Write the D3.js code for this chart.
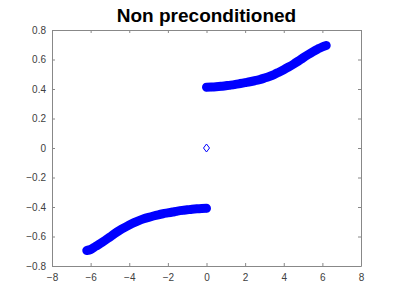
<!DOCTYPE html>
<html>
<head>
<meta charset="utf-8">
<script src="https://cdn.jsdelivr.net/npm/d3@7"></script>
<style>
  body { margin: 0; background: #fff; }
  text { font-family: "Liberation Sans", Arial, sans-serif; }
</style>
</head>
<body>
<script>
// values
var upperX = [0, 0.25, 0.5, 0.75, 1, 1.25, 1.5, 1.75, 2, 2.25, 2.5, 2.75, 3, 3.25, 3.5, 3.75, 4, 4.25, 4.5, 4.75, 5, 5.25, 5.5, 5.75, 6, 6.2];
var upperY = [0.412, 0.413, 0.415, 0.418, 0.422, 0.426, 0.431, 0.437, 0.443, 0.449, 0.456, 0.464, 0.474, 0.485, 0.498, 0.514, 0.531, 0.549, 0.568, 0.589, 0.611, 0.632, 0.652, 0.670, 0.686, 0.695];
var lowerX = [-6.2, -6, -5.75, -5.5, -5.25, -5, -4.75, -4.5, -4.25, -4, -3.75, -3.5, -3.25, -3, -2.75, -2.5, -2.25, -2, -1.75, -1.5, -1.25, -1, -0.75, -0.5, -0.25, 0];
var lowerY = [-0.695, -0.688, -0.668, -0.648, -0.626, -0.603, -0.580, -0.559, -0.540, -0.522, -0.506, -0.492, -0.480, -0.470, -0.461, -0.453, -0.446, -0.440, -0.434, -0.428, -0.423, -0.419, -0.415, -0.412, -0.410, -0.409];
var centerX = [0];
var centerY = [0];
var xTicks = [-8, -6, -4, -2, 0, 2, 4, 6, 8];
var yTicks = [-0.8, -0.6, -0.4, -0.2, 0, 0.2, 0.4, 0.6, 0.8];
var title = "Non preconditioned";

var width = 399, height = 299;
var margin = {left: 52, right: 38, top: 30, bottom: 33};
var axisColor = "#888888", textColor = "#404040", blue = "#0000ff";

var svg = d3.select("body").append("svg")
    .attr("width", width)
    .attr("height", height);

var x = d3.scaleLinear().domain([-8, 8]).range([margin.left, width - margin.right]);
var y = d3.scaleLinear().domain([-0.8, 0.8]).range([height - margin.bottom, margin.top]);

function fmt(v) { return d3.format("")(Math.round(v * 10) / 10); }

// axes with inward ticks on all four sides
var gx = svg.append("g").attr("transform", "translate(0," + y(-0.8) + ")")
    .call(d3.axisBottom(x).tickValues(xTicks).tickSizeInner(-3).tickSizeOuter(0).tickPadding(8).tickFormat(fmt));
var gxt = svg.append("g").attr("transform", "translate(0," + y(0.8) + ")")
    .call(d3.axisTop(x).tickValues(xTicks).tickSizeInner(-3).tickSizeOuter(0).tickFormat(""));
var gy = svg.append("g").attr("transform", "translate(" + x(-8) + ",0)")
    .call(d3.axisLeft(y).tickValues(yTicks).tickSizeInner(-3).tickSizeOuter(0).tickPadding(6).tickFormat(fmt));
var gyr = svg.append("g").attr("transform", "translate(" + x(8) + ",0)")
    .call(d3.axisRight(y).tickValues(yTicks).tickSizeInner(-3).tickSizeOuter(0).tickFormat(""));

[gx, gxt, gy, gyr].forEach(function(g) {
  g.selectAll("path, line").attr("stroke", axisColor);
  g.selectAll("text").attr("fill", textColor).style("font-size", "10px");
});

var diamond = function(hw, hh) {
  return "M0," + (-hh) + "L" + hw + ",0L0," + hh + "L" + (-hw) + ",0Z";
};

var upper = upperX.map(function(v, i) { return [v, upperY[i]]; });
var lower = lowerX.map(function(v, i) { return [v, lowerY[i]]; });

// markers are packed so tight they read as a solid band
var band = d3.line()
    .x(function(d) { return x(d[0]); })
    .y(function(d) { return y(d[1]); })
    .curve(d3.curveMonotoneX);

svg.append("g").selectAll("path")
    .data([upper, lower])
    .enter().append("path")
      .attr("d", band)
      .attr("fill", "none")
      .attr("stroke", blue)
      .attr("stroke-width", 9)
      .attr("stroke-linecap", "round");

svg.append("g").selectAll("path")
    .data(upper.concat(lower))
    .enter().append("path")
      .attr("d", diamond(2.5, 3))
      .attr("transform", function(d) { return "translate(" + x(d[0]) + "," + y(d[1]) + ")"; })
      .attr("fill", blue)
      .attr("stroke", blue)
      .attr("stroke-width", 2)
      .attr("stroke-linejoin", "round");

svg.append("g").selectAll("path")
    .data(centerX.map(function(v, i) { return [v, centerY[i]]; }))
    .enter().append("path")
      .attr("d", diamond(3, 4))
      .attr("transform", function(d) { return "translate(" + x(d[0]) + "," + y(d[1]) + ")"; })
      .attr("fill", "none")
      .attr("stroke", blue)
      .attr("stroke-width", 1);

svg.append("text")
    .attr("x", (x(-8) + x(8)) / 2)
    .attr("y", 22)
    .attr("text-anchor", "middle")
    .attr("font-weight", "bold")
    .style("font-size", "19px")
    .attr("fill", "#000")
    .text(title);
</script>
</body>
</html>
